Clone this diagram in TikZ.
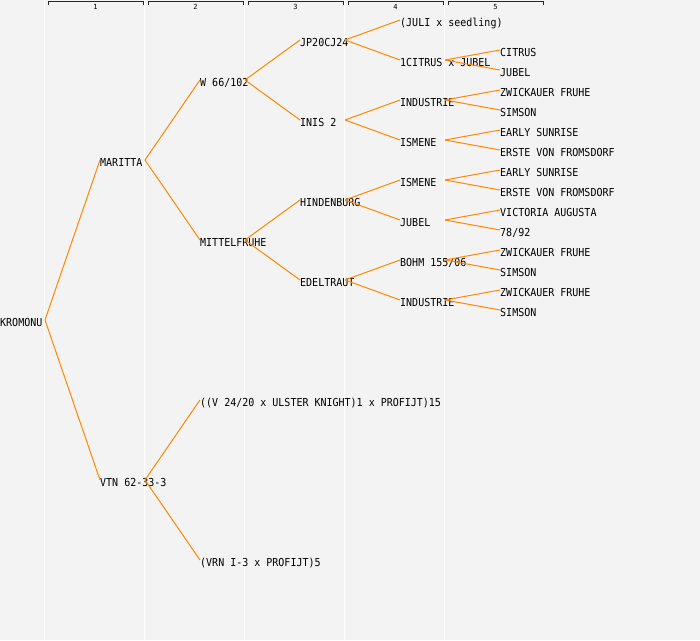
\documentclass[tikz,border=0pt]{standalone}
\usepackage{graphicx}
\usepackage{fontspec}
\newfontfamily\pedmono{DejaVu Sans Mono}
\definecolor{bgc}{HTML}{F3F3F3}
\definecolor{edgec}{HTML}{FF8800}
\newcommand{\vstretch}[1]{\scalebox{1}[1.1]{#1}}
\begin{document}
\begin{tikzpicture}[x=1pt,y=-1pt,
  lbl/.style={anchor=west,inner sep=0pt,text height=12pt,text depth=0pt,
    font=\pedmono\fontsize{10}{12}\selectfont,text=black},
  edge/.style={draw=edgec,line width=1pt},
  gridline/.style={draw=white,line width=1.2pt},
  bracket/.style={draw=black!85,line width=1pt},
  hdr/.style={inner sep=0pt,font=\pedmono\fontsize{7}{8}\selectfont,text=black}]
% background
\fill[bgc] (0,0) rectangle (700,640);
\useasboundingbox (0,0) rectangle (700,640);
% column lines
\foreach \c in {0,1,2,3,4}{
  \draw[gridline] (44.5+100*\c,0) -- (44.5+100*\c,640);
}
% header brackets
\foreach \c in {1,2,3,4,5}{
  \draw[bracket] (48+100*\c-100,4.5) -- (48+100*\c-100,1.5) -- (143+100*\c-100,1.5) -- (143+100*\c-100,4.5);
  \node[hdr] (h\c) at (95.5+100*\c-100,6.8) {\c};
}
% level 0
\node[lbl] (k0) at (0,320) {\vstretch{KROMONU}};
% level 1
\node[lbl] (m1) at (100,160) {\vstretch{MARITTA}};
\node[lbl] (v1) at (100,480) {\vstretch{VTN 62-33-3}};
% level 2
\node[lbl] (w2) at (200,80) {\vstretch{W 66/102}};
\node[lbl] (mf2) at (200,240) {\vstretch{MITTELFRUHE}};
\node[lbl] (ul2) at (200,400) {\vstretch{((V 24/20 x ULSTER KNIGHT)1 x PROFIJT)15}};
\node[lbl] (vr2) at (200,560) {\vstretch{(VRN I-3 x PROFIJT)5}};
% level 3
\node[lbl] (jp3) at (300,40) {\vstretch{JP20CJ24}};
\node[lbl] (in3) at (300,120) {\vstretch{INIS 2}};
\node[lbl] (hi3) at (300,200) {\vstretch{HINDENBURG}};
\node[lbl] (ed3) at (300,280) {\vstretch{EDELTRAUT}};
% level 4
\node[lbl] (ju4) at (400,20) {\vstretch{(JULI x seedling)}};
\node[lbl] (ci4) at (400,60) {\vstretch{1CITRUS x JUBEL}};
\node[lbl] (nd4a) at (400,100) {\vstretch{INDUSTRIE}};
\node[lbl] (is4a) at (400,140) {\vstretch{ISMENE}};
\node[lbl] (is4b) at (400,180) {\vstretch{ISMENE}};
\node[lbl] (jb4) at (400,220) {\vstretch{JUBEL}};
\node[lbl] (bo4) at (400,260) {\vstretch{BOHM 155/06}};
\node[lbl] (nd4b) at (400,300) {\vstretch{INDUSTRIE}};
% level 5
\node[lbl] (l1) at (500,50) {\vstretch{CITRUS}};
\node[lbl] (l2) at (500,70) {\vstretch{JUBEL}};
\node[lbl] (l3) at (500,90) {\vstretch{ZWICKAUER FRUHE}};
\node[lbl] (l4) at (500,110) {\vstretch{SIMSON}};
\node[lbl] (l5) at (500,130) {\vstretch{EARLY SUNRISE}};
\node[lbl] (l6) at (500,150) {\vstretch{ERSTE VON FROMSDORF}};
\node[lbl] (l7) at (500,170) {\vstretch{EARLY SUNRISE}};
\node[lbl] (l8) at (500,190) {\vstretch{ERSTE VON FROMSDORF}};
\node[lbl] (l9) at (500,210) {\vstretch{VICTORIA AUGUSTA}};
\node[lbl] (l10) at (500,230) {\vstretch{78/92}};
\node[lbl] (l11) at (500,250) {\vstretch{ZWICKAUER FRUHE}};
\node[lbl] (l12) at (500,270) {\vstretch{SIMSON}};
\node[lbl] (l13) at (500,290) {\vstretch{ZWICKAUER FRUHE}};
\node[lbl] (l14) at (500,310) {\vstretch{SIMSON}};
% connectors
\foreach \p/\c in {k0/m1,k0/v1,
  m1/w2,m1/mf2,v1/ul2,v1/vr2,
  w2/jp3,w2/in3,mf2/hi3,mf2/ed3,
  jp3/ju4,jp3/ci4,in3/nd4a,in3/is4a,hi3/is4b,hi3/jb4,ed3/bo4,ed3/nd4b,
  ci4/l1,ci4/l2,nd4a/l3,nd4a/l4,is4a/l5,is4a/l6,is4b/l7,is4b/l8,
  jb4/l9,jb4/l10,bo4/l11,bo4/l12,nd4b/l13,nd4b/l14}{
  \draw[edge] ([xshift=45pt]\p.west) -- (\c.west);
}
\end{tikzpicture}
\end{document}
